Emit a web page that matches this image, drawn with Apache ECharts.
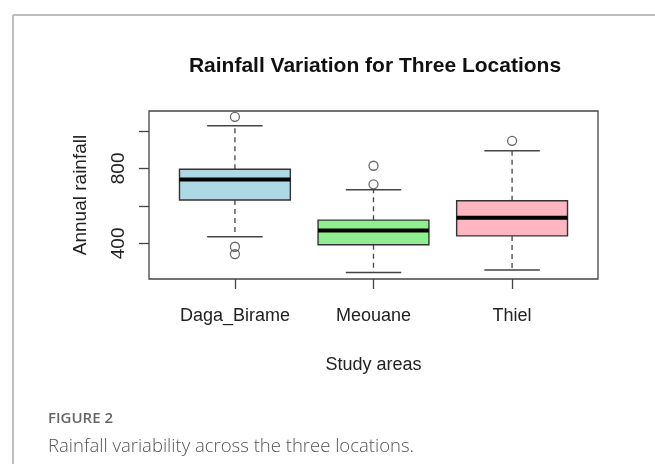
<!DOCTYPE html>
<html>
<head>
<meta charset="utf-8">
<script src="https://cdn.jsdelivr.net/npm/echarts@6/dist/echarts.min.js"></script>
<style>
html,body{margin:0;padding:0;background:#fff;}
#chart{width:655px;height:464px;}
</style>
</head>
<body>
<div id="chart"></div>
<script>
const categories = ['Daga_Birame', 'Meouane', 'Thiel'];
const whiskerLow  = [435, 245, 258];
const quartile1   = [631, 393, 440];
const medians     = [741, 469, 537];
const quartile3   = [795, 524, 627];
const whiskerHigh = [1027, 686, 894];
const outliers = [[1, 1075], [1, 382], [1, 343], [2, 814], [2, 715], [3, 947]];
const boxColors = ['#ADD8E6', '#90EE90', '#FFB6C1'];
const yTicks = [400, 600, 800, 1000];
const yLabels = [400, 800];

const boxData = categories.map((c, i) => [i + 1, whiskerLow[i], quartile1[i], medians[i], quartile3[i], whiskerHigh[i]]);

function renderBox(params, api) {
  const x = api.value(0);
  const pMin = api.coord([x, api.value(1)]);
  const pQ1 = api.coord([x, api.value(2)]);
  const pMed = api.coord([x, api.value(3)]);
  const pQ3 = api.coord([x, api.value(4)]);
  const pMax = api.coord([x, api.value(5)]);
  const bw = api.size([0.8, 0])[0];
  const cw = api.size([0.4, 0])[0];
  const cx = pMin[0];
  const dashStyle = {stroke: '#444', lineWidth: 1.3, lineDash: [5, 4]};
  const capStyle = {stroke: '#444', lineWidth: 1.5};
  return {
    type: 'group',
    children: [
      {type: 'line', shape: {x1: cx, y1: pQ3[1], x2: cx, y2: pMax[1]}, style: dashStyle},
      {type: 'line', shape: {x1: cx, y1: pQ1[1], x2: cx, y2: pMin[1]}, style: dashStyle},
      {type: 'line', shape: {x1: cx - cw / 2, y1: pMax[1], x2: cx + cw / 2, y2: pMax[1]}, style: capStyle},
      {type: 'line', shape: {x1: cx - cw / 2, y1: pMin[1], x2: cx + cw / 2, y2: pMin[1]}, style: capStyle},
      {type: 'rect', shape: {x: cx - bw / 2, y: pQ3[1], width: bw, height: pQ1[1] - pQ3[1]},
        style: {fill: boxColors[params.dataIndex], stroke: '#333', lineWidth: 1.4}},
      {type: 'line', shape: {x1: cx - bw / 2, y1: pMed[1], x2: cx + bw / 2, y2: pMed[1]}, style: {stroke: '#000', lineWidth: 4}}
    ]
  };
}

const chart = echarts.init(document.getElementById('chart'));
chart.setOption({
  animation: false,
  backgroundColor: '#fff',
  title: {
    text: 'Rainfall Variation for Three Locations',
    left: 370, top: 51, textAlign: 'center',
    textStyle: {fontFamily: 'Liberation Sans', fontWeight: 'bold', fontSize: 21, color: '#111'}
  },
  grid: {left: 149, top: 111, width: 449, height: 168, show: true, borderColor: '#444', borderWidth: 1.3, backgroundColor: 'transparent'},
  xAxis: {
    type: 'value', min: 0.38, max: 3.62,
    name: 'Study areas', nameLocation: 'middle', nameGap: 77,
    nameTextStyle: {fontFamily: 'Liberation Sans', fontSize: 18, color: '#222'},
    axisLine: {show: false},
    splitLine: {show: false},
    axisTick: {show: true, length: 10, customValues: [1, 2, 3], lineStyle: {color: '#444', width: 1.3}},
    axisLabel: {customValues: [1, 2, 3], margin: 28, fontFamily: 'Liberation Sans', fontSize: 18, color: '#222',
      formatter: v => categories[Math.round(v) - 1]}
  },
  yAxis: {
    type: 'value', min: 210, max: 1106,
    name: 'Annual rainfall', nameLocation: 'middle', nameGap: 59, nameRotate: 90,
    nameTextStyle: {fontFamily: 'Liberation Sans', fontSize: 19, color: '#222'},
    axisLine: {show: false},
    splitLine: {show: false},
    axisTick: {show: true, length: 10, customValues: yTicks, lineStyle: {color: '#444', width: 1.3}},
    axisLabel: {customValues: yLabels, rotate: 90, margin: 21, fontFamily: 'Liberation Sans', fontSize: 19, color: '#222'}
  },
  series: [
    {type: 'custom', renderItem: renderBox, data: boxData, encode: {x: 0, y: [1, 2, 3, 4, 5]}, z: 2},
    {type: 'scatter', data: outliers, symbol: 'circle', symbolSize: 9,
      itemStyle: {color: 'rgba(0,0,0,0)', borderColor: '#444', borderWidth: 1.3}, z: 3}
  ],
  graphic: [
    {type: 'line', shape: {x1: 13, y1: 15, x2: 13, y2: 464}, style: {stroke: '#aaa', lineWidth: 1.5}},
    {type: 'line', shape: {x1: 13, y1: 15, x2: 655, y2: 15}, style: {stroke: '#aaa', lineWidth: 1.5}},
    {type: 'text', x: 48, y: 419, style: {text: 'FIGURE 2', align: 'left', verticalAlign: 'middle', fontFamily: 'Open Sans', fontWeight: 600, fontSize: 15, fill: '#666'}},
    {type: 'text', x: 48, y: 447, style: {text: 'Rainfall variability across the three locations.', align: 'left', verticalAlign: 'middle', fontFamily: 'Open Sans', fontWeight: 300, fontSize: 18.5, fill: '#555'}}
  ]
});
</script>
</body>
</html>
